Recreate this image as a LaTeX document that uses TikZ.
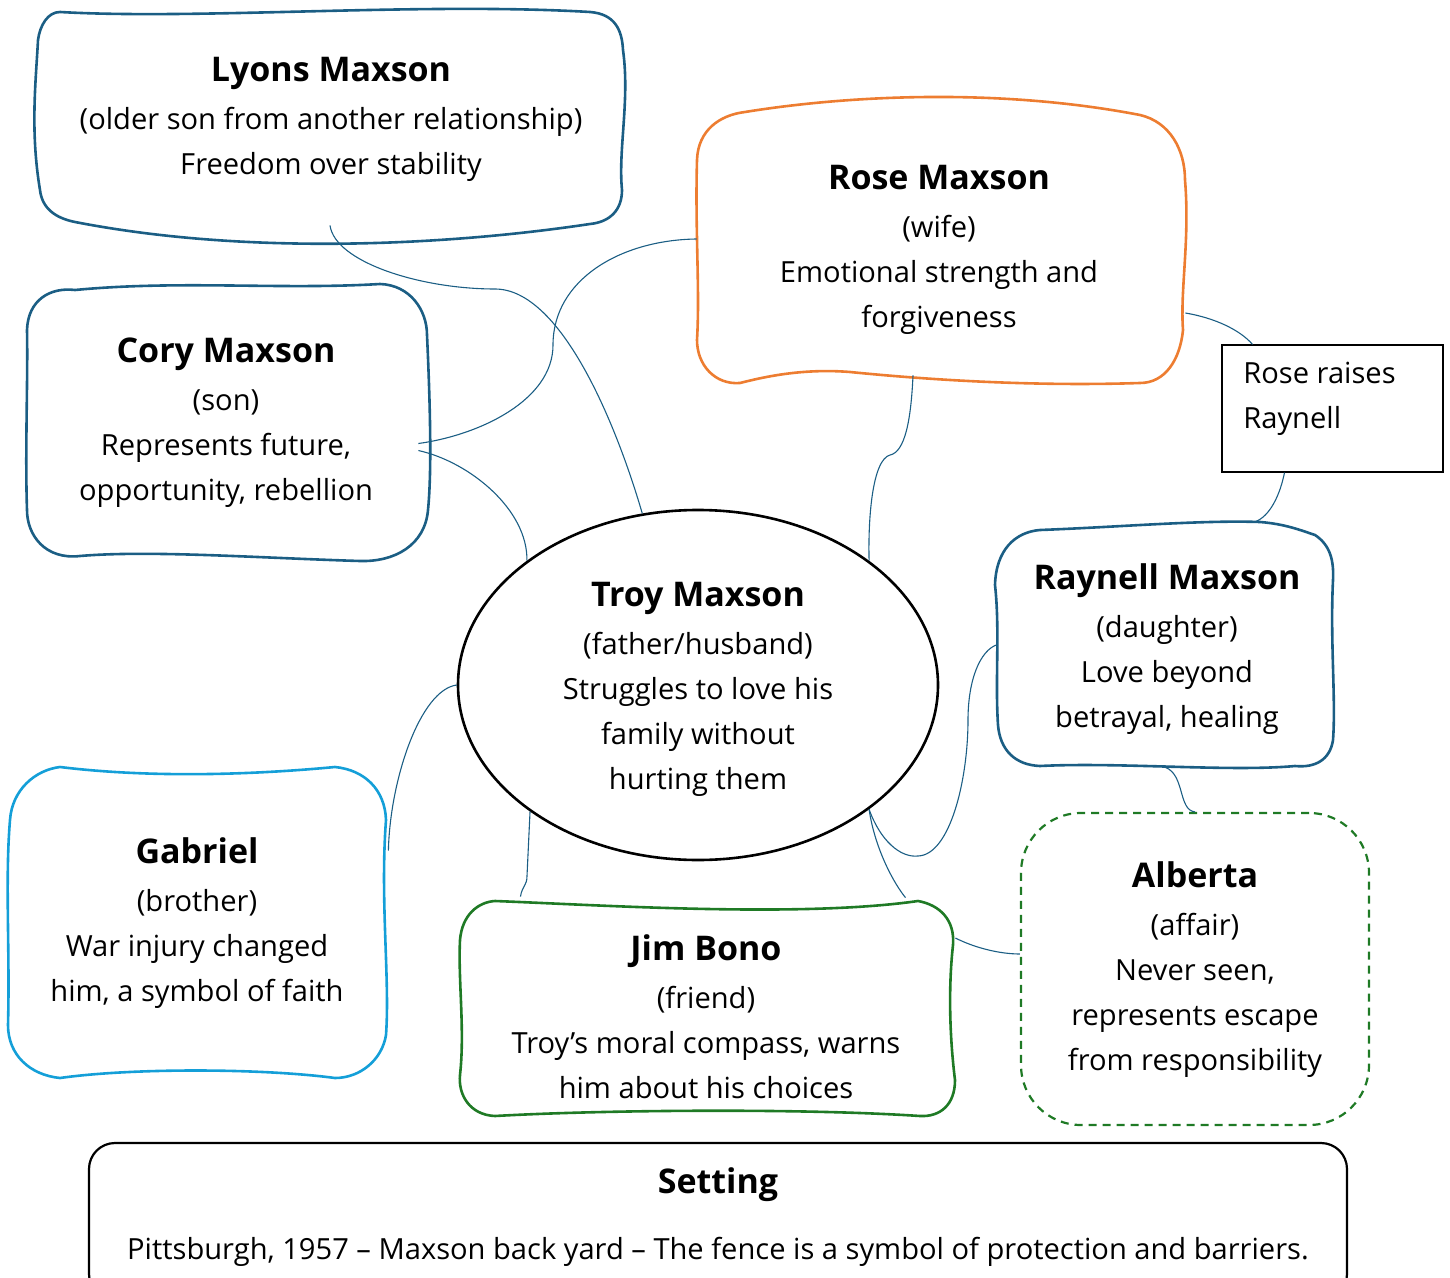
\documentclass[tikz,border=0pt]{standalone}
\usepackage{fontspec}
\setmainfont{Open Sans}
\usetikzlibrary{fit,shapes.geometric,calc}
\definecolor{dblue}{HTML}{1B5E84}
\definecolor{lblue}{HTML}{149FD8}
\definecolor{orng}{HTML}{ED7D31}
\definecolor{grn}{HTML}{1F7A25}
\newcommand\hd[1]{{\fontsize{17}{24}\selectfont\bfseries #1}}
\tikzset{
  conn/.style={draw=dblue, line width=0.55pt},
  wob/.style={line width=1.3pt, line join=round},
  txt/.style={align=center, font=\fontsize{14.55}{22.5}\selectfont, inner sep=0pt},
  area/.style={inner sep=0pt, draw=none},
}
\begin{document}
\begin{tikzpicture}[x=0.5pt,y=-0.5pt]
\useasboundingbox (0,0) rectangle (1450,1278);

% ---------- invisible area nodes ----------
\node[area, fit={(33,10) (627,225)}] (lyons) {};
\node[area, fit={(697,95) (1185,383)}] (rose) {};
\node[area, fit={(27,283) (418,562)}] (cory) {};
\node[area, fit={(998,522) (1333,767)}] (raynell) {};
\node[area, fit={(8,767) (388,1078)}] (gabriel) {};
\node[area, fit={(460,898) (955,1116)}] (jim) {};

% ---------- drawn nodes ----------
\node[ellipse, draw=black, line width=1.3pt, minimum width=240pt, minimum height=175pt, inner sep=0pt] (troy) at (698,685) {};
\node[draw=black, line width=0.6pt, inner sep=0pt, fit={(1222,345) (1443,472)}] (note) {};
\node[draw=grn, line width=1.1pt, dash pattern=on 4pt off 3pt, rounded corners=30pt, inner sep=0pt, fit={(1021,813) (1369,1125)}] (alberta) {};
\node[draw=black, line width=1.1pt, rounded corners=13pt, inner sep=0pt, fit={(89,1143) (1347,1300)}] (setting) {};

% ---------- wobbly outlines ----------
\draw[wob, dblue] (60,12) .. controls (200,20) and (420,2) .. (590,12)
  .. controls (615,14) and (622,30) .. (623,50)
  .. controls (630,100) and (618,150) .. (622,190)
  .. controls (622,210) and (610,222) .. (590,224)
  .. controls (450,245) and (250,256) .. (75,222)
  .. controls (55,218) and (42,208) .. (40,190)
  .. controls (30,130) and (36,80) .. (38,40)
  .. controls (40,25) and (48,12) .. (60,12) -- cycle;

\draw[wob, orng] (745,112) .. controls (850,95) and (1000,88) .. (1140,115)
  .. controls (1170,122) and (1185,150) .. (1185,180)
  .. controls (1190,240) and (1180,290) .. (1183,330)
  .. controls (1180,360) and (1165,383) .. (1140,383)
  .. controls (1050,386) and (950,382) .. (850,372)
  .. controls (800,368) and (760,378) .. (740,383)
  .. controls (715,385) and (697,365) .. (697,340)
  .. controls (700,290) and (695,230) .. (697,160)
  .. controls (698,130) and (720,115) .. (745,112) -- cycle;

\draw[wob, dblue] (75,290) .. controls (180,280) and (280,290) .. (380,284)
  .. controls (410,285) and (427,310) .. (427,335)
  .. controls (430,400) and (432,470) .. (428,510)
  .. controls (425,545) and (395,562) .. (360,561)
  .. controls (260,558) and (150,550) .. (80,556)
  .. controls (45,560) and (27,535) .. (27,510)
  .. controls (25,450) and (28,380) .. (27,330)
  .. controls (28,300) and (50,287) .. (75,290) -- cycle;

\draw[wob, dblue] (1040,530) .. controls (1120,527) and (1200,520) .. (1260,522)
  .. controls (1285,524) and (1300,530) .. (1315,535)
  .. controls (1330,545) and (1334,560) .. (1333,580)
  .. controls (1330,640) and (1336,700) .. (1333,740)
  .. controls (1330,760) and (1315,768) .. (1295,766)
  .. controls (1230,772) and (1120,762) .. (1040,766)
  .. controls (1015,765) and (1000,750) .. (998,725)
  .. controls (995,680) and (1000,630) .. (995,585)
  .. controls (996,550) and (1015,532) .. (1040,530) -- cycle;

\draw[wob, lblue] (60,767) .. controls (150,778) and (250,775) .. (335,767)
  .. controls (365,770) and (385,790) .. (386,820)
  .. controls (380,900) and (390,980) .. (386,1035)
  .. controls (382,1060) and (360,1078) .. (335,1078)
  .. controls (260,1068) and (130,1068) .. (60,1078)
  .. controls (30,1075) and (8,1055) .. (8,1025)
  .. controls (10,950) and (5,880) .. (10,820)
  .. controls (12,790) and (35,770) .. (60,767) -- cycle;

\draw[wob, grn] (495,901) .. controls (600,905) and (800,918) .. (918,901)
  .. controls (940,905) and (955,920) .. (953,945)
  .. controls (948,990) and (950,1040) .. (955,1080)
  .. controls (955,1105) and (940,1117) .. (920,1116)
  .. controls (800,1108) and (600,1110) .. (495,1116)
  .. controls (470,1115) and (458,1095) .. (460,1075)
  .. controls (465,1030) and (458,980) .. (460,940)
  .. controls (462,915) and (478,902) .. (495,901) -- cycle;

% ---------- texts ----------
\node[txt] (lyonsT) at (331,119) {\hd{Lyons Maxson}\\[1.5pt](older son from another relationship)\\Freedom over stability};
\node[txt] (roseT) at (939,250) {\hd{Rose Maxson}\\[1.5pt](wife)\\Emotional strength and\\forgiveness};
\node[txt] (coryT) at (226,423) {\hd{Cory Maxson}\\[1.5pt](son)\\Represents future,\\opportunity, rebellion};
\node[txt] (troyT) at (698,689) {\hd{Troy Maxson}\\[1.5pt](father/husband)\\Struggles to love his\\family without\\hurting them};
\node[txt, align=left, anchor=west] (noteT) at (1243,399) {Rose raises\\Raynell};
\node[txt] (raynellT) at (1167,649) {\hd{Raynell Maxson}\\[1.5pt](daughter)\\Love beyond\\betrayal, healing};
\node[txt] (gabrielT) at (197,923) {\hd{Gabriel}\\[1.5pt](brother)\\War injury changed\\him, a symbol of faith};
\node[txt] (jimT) at (706,1017) {\hd{Jim Bono}\\[1.5pt](friend)\\Troy’s moral compass, warns\\him about his choices};
\node[txt] (albertaT) at (1195,970) {\hd{Alberta}\\[1.5pt](affair)\\Never seen,\\represents escape\\from responsibility};
\node[txt] (settingT) at (718,1185) {\hd{Setting}};
\node[txt] (settingB) at (718,1252) {Pittsburgh, 1957 – Maxson back yard – The fence is a symbol of protection and barriers.};

% ---------- connectors ----------
\draw[conn] (lyons.south) .. controls (335,262) and (420,289) .. (495,289)
  .. controls (560,289) and (615,420) .. (troy.108);
\draw[conn] ([shift={(0,21)}]cory.east) .. controls (480,435) and (553,400) .. (553,345)
  .. controls (553,280) and (620,240) .. (rose.west);
\draw[conn] ([shift={(0,28)}]cory.east) .. controls (470,462) and (528,510) .. (troy.144);
\draw[conn] ([shift={(-28,-8)}]rose.south) .. controls (911,420) and (905,452) .. (890,455)
  .. controls (872,460) and (868,520) .. (troy.36);
\draw[conn] ([shift={(0,74)}]rose.east) .. controls (1215,318) and (1240,330) .. ([shift={(-80,0)}]note.north);
\draw[conn] ([shift={(-48,0)}]note.south) .. controls (1280,495) and (1270,516) .. ([shift={(90,0)}]raynell.north);
\draw[conn] (troy.west) .. controls (420,690) and (390,780) .. ([shift={(0,-72)}]gabriel.east);
\draw[conn] (troy.217) -- (527,876) .. controls (527,886) and (522,886) .. ([shift={(-187,-1)}]jim.north);
\draw[conn] (troy.-36) .. controls (880,840) and (900,858) .. (918,856)
  .. controls (950,855) and (968,780) .. (968,720)
  .. controls (968,680) and (980,650) .. (raynell.west);
\draw[conn] (troy.-36) .. controls (875,850) and (895,885) .. ([shift={(198,0)}]jim.north);
\draw[conn] ([shift={(0,-69)}]jim.east) .. controls (975,948) and (1000,954) .. ([shift={(0,-15)}]alberta.west);
\draw[conn] (raynell.south) .. controls (1185,775) and (1178,810) .. (alberta.north);
\end{tikzpicture}
\end{document}
